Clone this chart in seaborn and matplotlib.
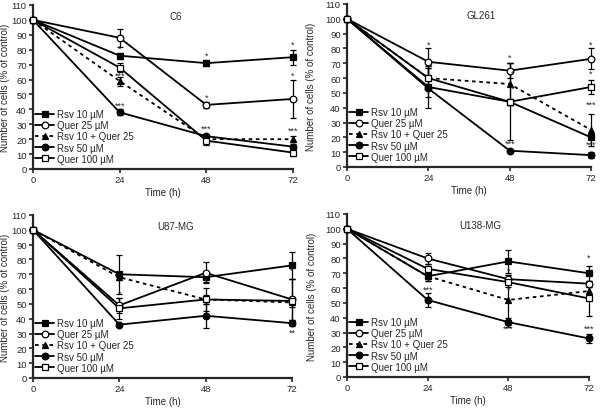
import numpy as np
import pandas as pd
import matplotlib
matplotlib.use('Agg')
import matplotlib.pyplot as plt
import seaborn as sns

# 时间点
times = [0, 24, 48, 72]
series_names = ['Rsv 10 µM', 'Quer 25 µM', 'Rsv 10 + Quer 25', 'Rsv 50 µM', 'Quer 100 µM']

# 每个细胞系的均值 (% of control)
c6_vals = [
    [100, 76, 71, 75],
    [100, 88, 43, 47],
    [100, 59, 20, 20],
    [100, 38, 22, 15],
    [100, 68, 19, 11],
]
c6_err = [
    [0, 2, 2, 5],
    [0, 6, 2, 13],
    [0, 3, 2, 2],
    [0, 2, 1, 2],
    [0, 3, 3, 2],
]
gl261_vals = [
    [100, 54, 44, 20],
    [100, 71, 65, 73],
    [100, 60, 56, 25],
    [100, 53, 11, 8],
    [100, 60, 44, 54],
]
gl261_err = [
    [0, 14, 2, 1],
    [0, 9, 5, 7],
    [0, 7, 14, 11],
    [0, 6, 1, 2],
    [0, 7, 26, 5],
]
u87_vals = [
    [100, 70, 68, 76],
    [100, 49, 71, 53],
    [100, 68, 53, 51],
    [100, 36, 42, 37],
    [100, 47, 53, 52],
]
u87_err = [
    [0, 13, 3, 9],
    [0, 5, 7, 14],
    [0, 2, 3, 3],
    [0, 1, 8, 2],
    [0, 7, 8, 15],
]
u138_vals = [
    [100, 68, 78, 70],
    [100, 80, 66, 63],
    [100, 68, 52, 58],
    [100, 52, 37, 26],
    [100, 73, 64, 53],
]
u138_err = [
    [0, 3, 8, 5],
    [0, 4, 3, 2],
    [0, 3, 17, 3],
    [0, 5, 3, 3],
    [0, 3, 3, 12],
]

# 显著性标记 (time, y, text)
c6_stars = [(24, 78, '*'), (24, 60, '***'), (24, 40, '***'), (48, 73, '*'), (48, 45, '*'),
            (48, 24, '***'), (72, 81, '*'), (72, 60, '*'), (72, 23, '***')]
gl261_stars = [(24, 80, '*'), (24.8, 65, '*'), (48, 71, '*'), (49, 60, '*'), (49, 50, '*'),
               (48, 13, '***'), (72, 80, '*'), (72, 60, '*'), (72, 39, '***'), (72, 12, '***')]
u87_stars = [(24, 54, '*'), (48, 63, '*'), (72, 70, '*'), (72, 28, '**')]
u138_stars = [(24, 56, '***'), (48, 69, '*'), (48, 56, '*'), (48, 30, '***'), (72, 78, '*'),
              (72, 30, '***')]

panels = [
    ('C6', c6_vals, c6_err, c6_stars),
    ('GL261', gl261_vals, gl261_err, gl261_stars),
    ('U87-MG', u87_vals, u87_err, u87_stars),
    ('U138-MG', u138_vals, u138_err, u138_stars),
]

styles = [
    dict(marker='s', mfc='black', ls='-'),
    dict(marker='o', mfc='white', ls='-'),
    dict(marker='^', mfc='black', ls=(0, (2, 2))),
    dict(marker='o', mfc='black', ls='-'),
    dict(marker='s', mfc='white', ls='-'),
]

sns.set_style('ticks')
plt.rcParams['font.family'] = ['Liberation Sans', 'DejaVu Sans']

fig = plt.figure(figsize=(6, 4.1), dpi=100)
# 各子图在画布上的像素位置 (left, top, right, bottom)
rects = [
    (33, 6, 293, 170),
    (347, 5, 591, 168),
    (33, 216, 292, 379),
    (347, 215, 589, 378),
]
label_x = [-0.088, -0.125, -0.088, -0.125]

for (name, vals, errs, stars), (l, t, r, b), lx in zip(panels, rects, label_x):
    ax = fig.add_axes([l / 600, 1 - b / 410, (r - l) / 600, (b - t) / 410])
    rows = []
    for s, v in zip(series_names, vals):
        for tt, vv in zip(times, v):
            rows.append({'time': tt, 'value': vv, 'series': s})
    df = pd.DataFrame(rows)
    for i, s in enumerate(series_names):
        st = styles[i]
        sub = df[df['series'] == s]
        ax.errorbar(sub['time'], sub['value'], yerr=errs[i], fmt='none',
                    ecolor='black', elinewidth=0.9, capsize=2, capthick=0.9,
                    zorder=2, clip_on=False)
        sns.lineplot(data=sub, x='time', y='value', ax=ax, color='black',
                     marker=st['marker'], markerfacecolor=st['mfc'],
                     markeredgecolor='black', markersize=4.8, markeredgewidth=0.9,
                     linewidth=1.3, linestyle=st['ls'], label=s, zorder=3)
    for ln in ax.lines:
        ln.set_clip_on(False)
    for x, y, txt in stars:
        ax.text(x, y, txt, ha='center', va='bottom', fontsize=6.5)
    ax.set_xlim(0, 72)
    ax.set_ylim(0, 110)
    ax.set_xticks(times)
    ax.set_yticks(range(0, 111, 10))
    ax.tick_params(labelsize=6.8, length=3, width=1.2, pad=1.5)
    for sp in ['left', 'bottom']:
        ax.spines[sp].set_linewidth(1.6)
    sns.despine(ax=ax)
    ax.set_xlabel('Time (h)', fontsize=7, labelpad=2)
    ax.set_ylabel('Number of cells (% of control)', fontsize=7)
    ax.yaxis.set_label_coords(lx, 0.5)
    ax.text(0.55, 0.93, name, transform=ax.transAxes, ha='center', va='center', fontsize=7)
    ax.legend(loc='lower left', frameon=False, fontsize=7, handlelength=2.0,
              handletextpad=0.3, labelspacing=0.12, borderaxespad=0.0,
              borderpad=0.2, bbox_to_anchor=(0.0, 0.02))

fig.savefig('out.png', dpi=100)
